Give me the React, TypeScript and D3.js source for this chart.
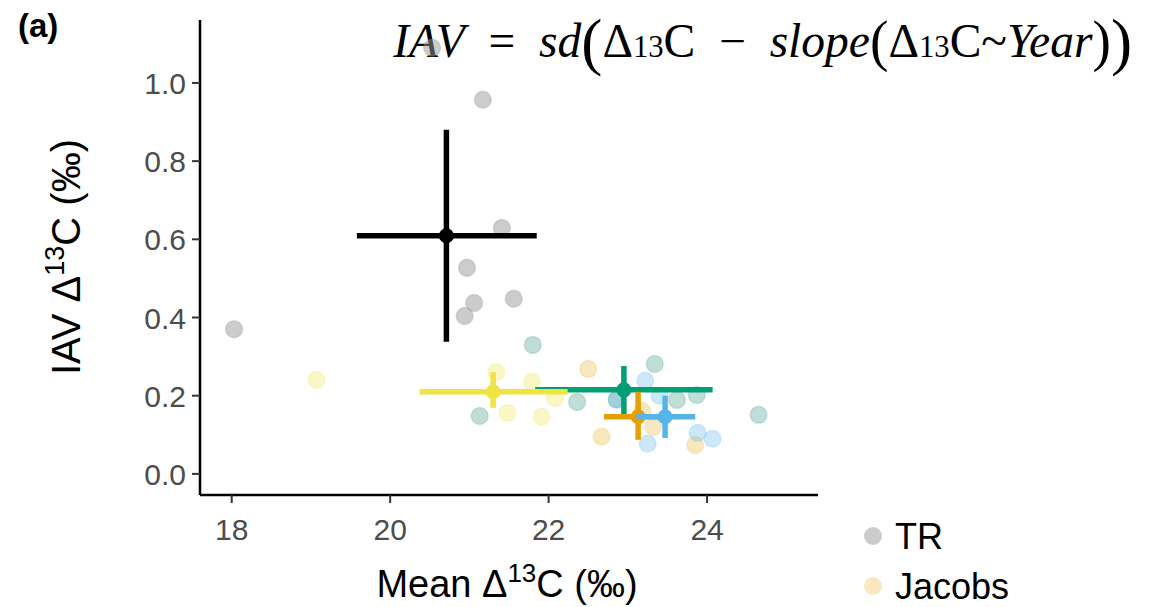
import React from "react";
import * as d3 from "d3";

const W = 1152, H = 607;

// Individual site points (mean Δ13C, IAV)
const trX = [18.03, 20.53, 21.17, 21.41, 20.97, 21.06, 21.56, 20.94];
const trY = [0.37, 1.09, 0.957, 0.629, 0.527, 0.437, 0.448, 0.404];

const greenX = [21.8, 23.34, 22.36, 21.13, 24.65, 23.87, 23.62, 22.86];
const greenY = [0.33, 0.281, 0.184, 0.148, 0.151, 0.202, 0.189, 0.19];

const orangeX = [22.5, 22.67, 23.85, 23.32, 23.18];
const orangeY = [0.268, 0.095, 0.074, 0.12, 0.16];

const blueX = [23.22, 23.25, 23.88, 24.07, 22.86, 23.4];
const blueY = [0.238, 0.077, 0.105, 0.09, 0.19, 0.2];

const yellowX = [19.07, 21.34, 21.79, 22.08, 21.48, 21.91];
const yellowY = [0.24, 0.26, 0.235, 0.194, 0.156, 0.146];

// Group means with error bars
const groupNames = ["TR", "Green", "Yellow", "Orange", "Blue"];
const groupColors = ["#000000", "#009E73", "#F0E442", "#E69F00", "#56B4E9"];
const meanX = [20.71, 22.95, 21.3, 23.13, 23.47];
const meanY = [0.609, 0.215, 0.21, 0.146, 0.146];
const xLo = [19.58, 21.83, 20.37, 22.7, 23.11];
const xHi = [21.85, 24.07, 22.24, 23.56, 23.85];
const yLo = [0.338, 0.153, 0.169, 0.087, 0.092];
const yHi = [0.88, 0.276, 0.26, 0.21, 0.2];

const xTicks = [18, 20, 22, 24];
const yTicks = [0.0, 0.2, 0.4, 0.6, 0.8, 1.0];

const legendLabels = ["TR", "Jacobs"];
const legendColors = ["#999999", "#E69F00"];

export default function App() {
  const left = 200, right = 818, top = 20, bottom = 495;
  const x = d3.scaleLinear().domain([17.6, 25.4]).range([left, right]);
  const y = d3.scaleLinear().domain([-0.054, 1.161]).range([bottom, top]);

  const pts = (xs: number[], ys: number[], color: string, op: number, key: string) =>
    xs.map((v, i) => (
      <circle key={key + i} cx={x(v)} cy={y(ys[i])} r={8.5} fill={color} fillOpacity={op} stroke={color} strokeOpacity={op * 0.6} strokeWidth={1.5} />
    ));

  const sans = "Liberation Sans, Arial, sans-serif";
  const tickColor = "#4d4d4d";
  const serif = "Liberation Serif, serif";

  return (
    <svg width={W} height={H} style={{ position: "absolute", left: 0, top: 0, background: "#fff" }}>
      <rect width={W} height={H} fill="#fff" />
      <text x={18} y={37} fontFamily={sans} fontWeight="bold" fontSize={33}>(a)</text>

      {/* formula (drawn first so the top point sits over it) */}
      <g transform="translate(1132,57) scale(0.99,1)">
        <text x={0} y={0} textAnchor="end" fontFamily={serif} fontSize={48} fill="#000" style={{ whiteSpace: "pre" }}>
          <tspan fontStyle="italic">IAV</tspan>{"  =  "}<tspan fontStyle="italic">sd</tspan><tspan fontSize={64} dy={6}>(</tspan><tspan dy={-6}>Δ</tspan><tspan fontSize={31}>13</tspan>C{"  −  "}<tspan fontStyle="italic">slope</tspan><tspan fontSize={56} dy={3}>(</tspan><tspan dy={-3}>Δ</tspan><tspan fontSize={31}>13</tspan>C~<tspan fontStyle="italic">Year</tspan><tspan fontSize={56} dy={3}>)</tspan><tspan fontSize={64} dy={3}>)</tspan>
        </text>
      </g>

      {/* light points */}
      {pts(greenX, greenY, "#4a9d8c", 0.35, "g")}
      {pts(yellowX, yellowY, "#F0E442", 0.3, "y")}
      {pts(orangeX, orangeY, "#E69F00", 0.25, "o")}
      {pts(blueX, blueY, "#56B4E9", 0.3, "b")}
      {pts(trX, trY, "#9a9a9a", 0.5, "t")}

      {/* error crosses */}
      {groupNames.map((g, i) => (
        <g key={g}>
          <line x1={x(xLo[i])} x2={x(xHi[i])} y1={y(meanY[i])} y2={y(meanY[i])} stroke={groupColors[i]} strokeWidth={5.5} />
          <line x1={x(meanX[i])} x2={x(meanX[i])} y1={y(yLo[i])} y2={y(yHi[i])} stroke={groupColors[i]} strokeWidth={5.5} />
          <circle cx={x(meanX[i])} cy={y(meanY[i])} r={7.5} fill={groupColors[i]} />
        </g>
      ))}

      {/* axes */}
      <line x1={left} x2={left} y1={top} y2={bottom} stroke="#000" strokeWidth={2.5} />
      <line x1={left} x2={right} y1={bottom} y2={bottom} stroke="#000" strokeWidth={2.5} />
      {xTicks.map((t) => (
        <g key={"xt" + t}>
          <line x1={x(t)} x2={x(t)} y1={bottom} y2={bottom + 8} stroke="#333" strokeWidth={2} />
          <text x={x(t)} y={bottom + 45} textAnchor="middle" fontFamily={sans} fontSize={30} fill={tickColor}>{t}</text>
        </g>
      ))}
      {yTicks.map((t) => (
        <g key={"yt" + t}>
          <line x1={left - 8} x2={left} y1={y(t)} y2={y(t)} stroke="#333" strokeWidth={2} />
          <text x={left - 14} y={y(t) + 11} textAnchor="end" fontFamily={sans} fontSize={30} fill={tickColor}>{t.toFixed(1)}</text>
        </g>
      ))}

      {/* axis titles */}
      <text x={507} y={597} textAnchor="middle" fontFamily={sans} fontSize={38} fill="#000">
        Mean Δ<tspan dy={-15} fontSize={26}>13</tspan><tspan dy={15}>C (‰)</tspan>
      </text>
      <text transform="translate(80,257) rotate(-90)" textAnchor="middle" fontFamily={sans} fontSize={40} fill="#000">
        IAV Δ<tspan dy={-16} fontSize={27}>13</tspan><tspan dy={16}>C (‰)</tspan>
      </text>

      {/* legend */}
      {legendLabels.map((l, i) => (
        <g key={l}>
          <circle cx={873} cy={536 + i * 50} r={9} fill={legendColors[i]} fillOpacity={i === 0 ? 0.5 : 0.25} />
          <text x={895} y={549 + i * 50} fontFamily={sans} fontSize={36} fill="#000">{l}</text>
        </g>
      ))}
    </svg>
  );
}
